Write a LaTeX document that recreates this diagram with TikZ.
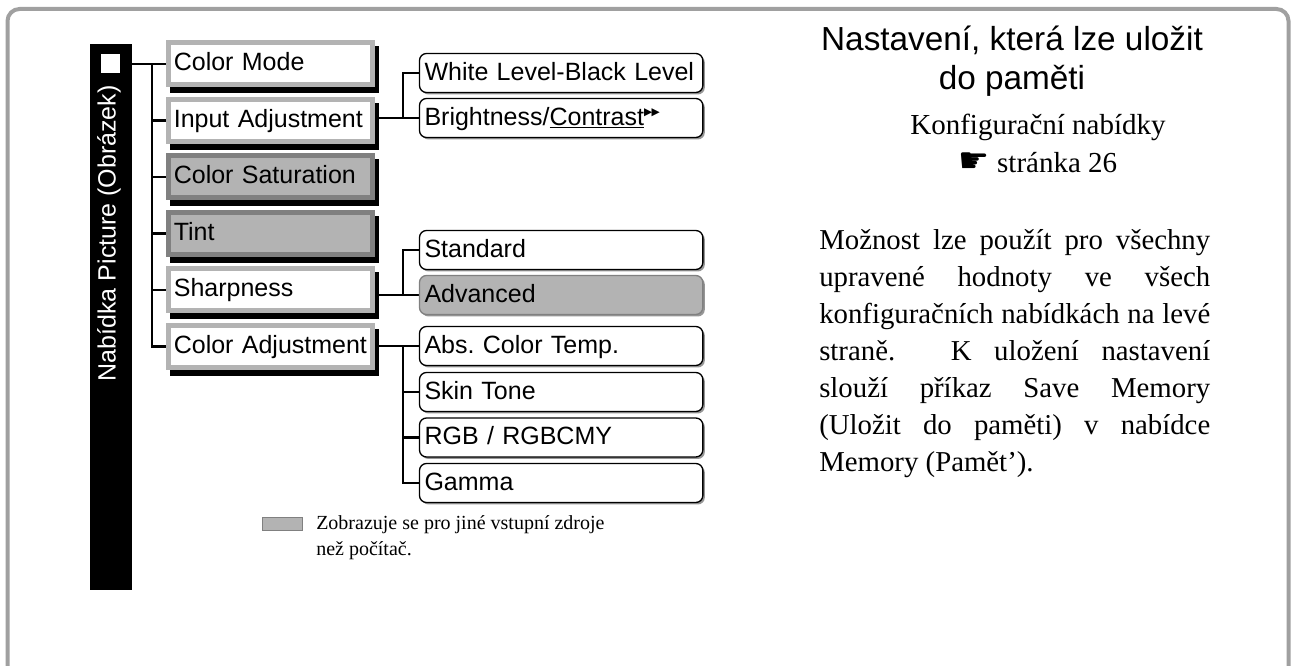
\documentclass[tikz,border=0pt]{standalone}
\usepackage{fontspec}
\setmainfont{Liberation Serif}
\setsansfont{Liberation Sans}
\newfontfamily\dejavu{DejaVu Sans}
\usetikzlibrary{positioning, backgrounds, shadows}
\definecolor{framegray}{RGB}{160, 160, 160}
\definecolor{boxgray}{RGB}{179, 179, 179}
\definecolor{edgegray}{RGB}{128, 128, 128}
\definecolor{shadegray}{RGB}{150, 150, 150}
\newcommand\glossmark{\raisebox{7.5pt}{\dejavu\fontsize{8}{8}\selectfont ▶\kern-0.5pt▶}}

\begin{document}
\begin{tikzpicture}[x=0.75pt, y=-0.75pt,
    menubox/.style={draw=boxgray, fill=white, line width=3.75pt, anchor=west, outer sep=0pt,
      minimum height=31.5pt, text width=145pt, inner xsep=4pt, inner ysep=0pt,
      text height=14pt, text depth=4pt, font=\sffamily\fontsize{18.75}{22}\selectfont\frenchspacing},
    menugray/.style={menubox, draw=edgegray, fill=boxgray},
    subbox/.style={draw=black, fill=white, line width=1pt, rounded corners=5.25pt, anchor=west, outer sep=0pt,
      minimum height=29.25pt, text width=205pt, inner xsep=3.75pt, inner ysep=0pt,
      text height=14.5pt, text depth=3.5pt, font=\sffamily\fontsize{18.75}{22}\selectfont\frenchspacing,
      drop shadow={shadow xshift=1.5pt, shadow yshift=-1.5pt, fill=shadegray, opacity=1}},
    subgray/.style={subbox, fill=boxgray, draw=edgegray},
    link/.style={line width=1.8pt}]
  \useasboundingbox (0,0) rectangle (1293,666);
  \draw[framegray, line width=3pt, rounded corners=9pt] (7.5,690) -- (7.5,9) -- (1288.5,9) -- (1288.5,690);

  \node[fill=black, minimum width=31.5pt, minimum height=409.5pt, inner sep=0pt, outer sep=0pt] (bar) at (111,317) {};
  \node[fill=white, minimum size=14.25pt, inner sep=0pt] (sq) at (110.5,64) {};
  \node[rotate=90, anchor=east, text=white, inner sep=0pt, font=\sffamily\fontsize{18.75}{22}\selectfont] (barlabel) at (109,85) {Nabídka Picture (Obrázek)};

  \foreach \i/\txt/\sty in {1/Color Mode/menubox, 2/Input Adjustment/menubox, 3/Color Saturation/menugray,
      4/Tint/menugray, 5/Sharpness/menubox, 6/Color Adjustment/menubox}
    \node[\sty] (m\i) at (168.5,{7.5+56.5*\i}) {\txt};

  \foreach \i/\y/\txt/\sty in {1/73/White Level-Black Level/subbox, 2/118/{Brightness/\underline{Contrast}\glossmark}/subbox,
      3/250/Standard/subbox, 4/295/Advanced/subgray, 5/346/Abs. Color Temp./subbox,
      6/392/Skin Tone/subbox, 7/437.5/{RGB / RGBCMY}/subbox, 8/483/Gamma/subbox}
    \node[\sty] (s\i) at (419.5,\y) {\txt};

  \coordinate (trunk) at (152,64);
  \coordinate (fork) at (403,0);
  \begin{scope}[on background layer]
    \foreach \i in {1,...,6}
      \fill[black] ([shift={(1.5,3.5)}]m\i.north west) rectangle ([shift={(6.5,8.5)}]m\i.south east);
    \draw[link] (bar.east |- m1.west) -- (m1.west);
    \draw[link] (trunk) |- (m6.west);
    \foreach \i in {2,...,5}
      \draw[link] (m\i.west -| trunk) -- (m\i.west);
    \draw[link] (m2.east |- s2.west) -- (s2.west);
    \draw[link] (s2.west -| fork) |- (s1.west);
    \draw[link] (m5.east |- s4.west) -- (s4.west);
    \draw[link] (s4.west -| fork) |- (s3.west);
    \draw[link] (m6.east |- s5.west) -- (s5.west);
    \draw[link] (s5.west -| fork) |- (s8.west);
    \foreach \i in {6,7}
      \draw[link] (s\i.west -| fork) -- (s\i.west);
  \end{scope}

  \node[fill=boxgray, draw=edgegray, line width=0.75pt, minimum width=30pt, minimum height=9.5pt, inner sep=0pt] (key) at (282.5,524) {};
  \node[font=\fontsize{15}{20.25}\selectfont, align=left, anchor=base west, inner sep=0pt] (keytext) at (316,556)
    {Zobrazuje se pro jiné vstupní zdroje\\než počítač.};

  \node[font=\sffamily\fontsize{25}{29.25}\selectfont, align=center, anchor=base, inner sep=0pt] (title) at (1012,90)
    {Nastavení, která lze uložit\\do paměti};
  \node[font=\fontsize{21.75}{28.5}\selectfont, align=center, anchor=base, inner sep=0pt] (pageref) at (1038,173)
    {Konfigurační nabídky\\{\dejavu\fontsize{26}{26}\selectfont ☛} stránka 26};
  \node[font=\fontsize{21.6}{27.75}\selectfont, text width=293.25pt, align=justify,
      anchor=base west, inner sep=0pt] (note) at (819,250)
    {\hyphenpenalty=10000 \tolerance=9999 \relax
     Možnost lze použít pro všechny\linebreak upravené hodnoty ve všech\linebreak konfiguračních nabídkách na levé\linebreak
     straně. K uložení nastavení\linebreak slouží příkaz Save Memory\linebreak (Uložit do paměti) v nabídce\linebreak Memory (Pamět’).};
\end{tikzpicture}
\end{document}
